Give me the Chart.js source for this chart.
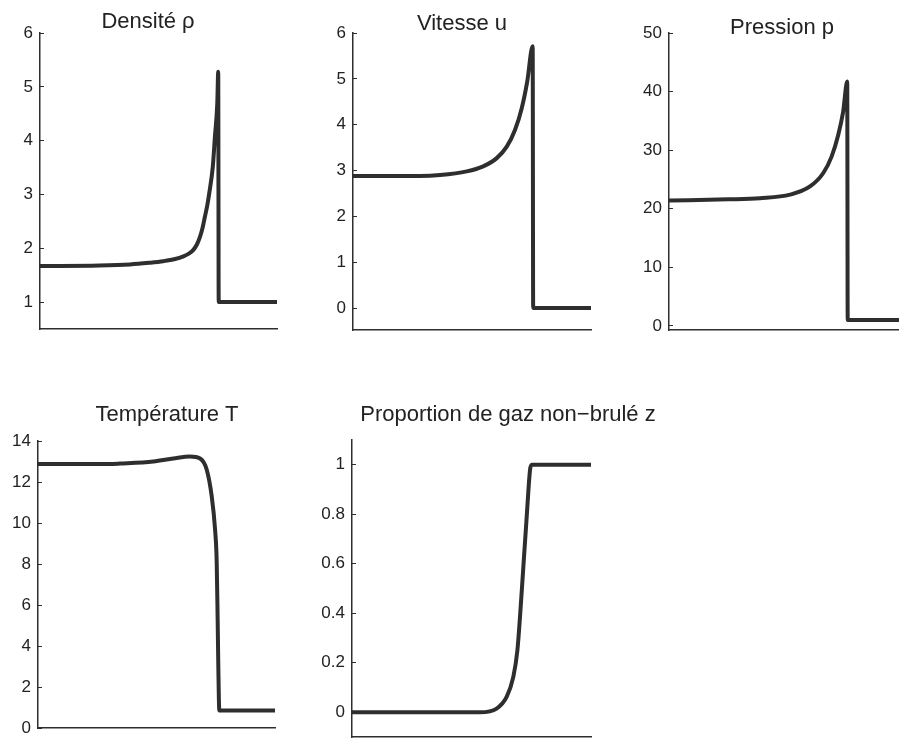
<!DOCTYPE html>
<html>
<head>
<meta charset="utf-8">
<script src="https://cdn.jsdelivr.net/npm/chart.js@4"></script>
<style>
  html, body { margin: 0; padding: 0; background: #fff; width: 899px; height: 748px; overflow: hidden; }
  canvas { position: absolute; }
</style>
</head>
<body>
<canvas id="densite"></canvas>
<canvas id="vitesse"></canvas>
<canvas id="pression"></canvas>
<canvas id="temperature"></canvas>
<canvas id="proportion"></canvas>
<script>
// valeurs (x = position relative 0..1)
const densX = [0, 0.25, 0.38, 0.46, 0.52, 0.57, 0.605, 0.628, 0.647, 0.662, 0.675, 0.686, 0.696, 0.706, 0.714, 0.729, 0.738, 0.748, 0.752, 0.754, 1];
const densY = [1.67, 1.68, 1.70, 1.73, 1.76, 1.80, 1.85, 1.90, 1.97, 2.07, 2.21, 2.38, 2.59, 2.80, 3.02, 3.51, 4.07, 4.69, 5.28, 1.0, 1.0];
const densTicks = [1, 2, 3, 4, 5, 6];

const vitX = [0, 0.28, 0.366, 0.478, 0.547, 0.604, 0.646, 0.681, 0.709, 0.732, 0.755, 0.757, 1];
const vitY = [2.88, 2.88, 2.90, 2.98, 3.09, 3.27, 3.52, 3.89, 4.36, 4.94, 5.71, 0, 0];
const vitTicks = [0, 1, 2, 3, 4, 5, 6];

const presX = [0, 0.25, 0.384, 0.511, 0.595, 0.651, 0.686, 0.714, 0.735, 0.752, 0.754, 1];
const presY = [21.4, 21.6, 21.8, 22.4, 23.8, 26.1, 28.9, 32.6, 36.6, 41.7, 1.0, 1.0];
const presTicks = [0, 10, 20, 30, 40, 50];

const tempX = [0, 0.3, 0.346, 0.487, 0.571, 0.641, 0.684, 0.712, 0.733, 0.747, 0.754, 0.758, 0.761, 0.765, 1];
const tempY = [12.88, 12.88, 12.9, 13.0, 13.15, 13.25, 13.15, 12.6, 11.3, 9.7, 8.1, 5.3, 2.9, 0.85, 0.85];
const tempTicks = [0, 2, 4, 6, 8, 10, 12, 14];

const propX = [0, 0.536, 0.605, 0.647, 0.675, 0.692, 0.703, 0.717, 0.731, 0.745, 0.752, 1];
const propY = [0, 0, 0.015, 0.062, 0.143, 0.25, 0.386, 0.588, 0.79, 0.98, 1.0, 1.0];
const propTicks = [0, 0.2, 0.4, 0.6, 0.8, 1];

const ink = '#2e2e2e';
const fontFamily = '"Liberation Sans", Arial, Helvetica, sans-serif';

// titre placé librement (les titres de la figure ne sont pas centrés sur les axes)
const panelTitle = {
  id: 'panelTitle',
  afterDraw(chart, args, opts) {
    const ctx = chart.ctx;
    ctx.save();
    ctx.font = '22px ' + fontFamily;
    ctx.fillStyle = '#222';
    ctx.textAlign = 'center';
    ctx.textBaseline = 'alphabetic';
    ctx.fillText(opts.text, opts.x, opts.y);
    ctx.restore();
  }
};

function makePanel(id, area, xs, ys, yMin, yMax, yTicks, title, tx, ty, padR) {
  const padL = 45, padT = 45, padB = 25;
  const canvas = document.getElementById(id);
  const left = area.l - padL, top = area.t - padT;
  canvas.width = area.r - area.l + padL + padR;
  canvas.height = area.b - area.t + padT + padB;
  canvas.style.left = left + 'px';
  canvas.style.top = top + 'px';

  new Chart(canvas, {
    type: 'line',
    data: {
      datasets: [{
        data: xs.map((x, i) => ({ x: x, y: ys[i] })),
        borderColor: ink,
        borderWidth: 4,
        pointRadius: 0,
        cubicInterpolationMode: 'monotone',
        borderJoinStyle: 'round',
        fill: false
      }]
    },
    options: {
      responsive: false,
      animation: false,
      layout: { padding: { left: 0, right: padR, top: padT, bottom: padB } },
      plugins: {
        legend: { display: false },
        tooltip: { enabled: false },
        panelTitle: { text: title, x: tx - left, y: ty - top }
      },
      scales: {
        x: {
          type: 'linear',
          min: 0,
          max: 1,
          ticks: { display: false },
          grid: { display: false, drawTicks: false },
          border: { display: true, color: ink, width: 1.5 },
          afterFit: s => { s.height = 0; }
        },
        y: {
          type: 'linear',
          min: yMin,
          max: yMax,
          afterBuildTicks: s => { s.ticks = yTicks.map(v => ({ value: v })); },
          ticks: {
            color: '#222',
            padding: 11,
            font: { family: fontFamily, size: 17 },
            callback: v => String(v)
          },
          // petites graduations tournées vers l'intérieur
          grid: { display: true, drawOnChartArea: false, drawTicks: true, tickLength: -4, color: ink, lineWidth: 1 },
          border: { display: true, color: ink, width: 1.5 },
          afterFit: s => { s.width = padL; }
        }
      }
    },
    plugins: [panelTitle]
  });
}

makePanel('densite', { l: 40, r: 277, t: 33, b: 329 }, densX, densY, 0.5, 6, densTicks, 'Densité ρ', 148, 27.5, 15);
makePanel('vitesse', { l: 353, r: 591, t: 33, b: 330 }, vitX, vitY, -0.48, 6, vitTicks, 'Vitesse u', 462, 30, 15);
makePanel('pression', { l: 669, r: 906, t: 33, b: 330 }, presX, presY, -0.7, 50, presTicks, 'Pression p', 782, 34, 15);
makePanel('temperature', { l: 38, r: 275, t: 441, b: 728 }, tempX, tempY, 0, 14, tempTicks, 'Température T', 167, 421, 15);
makePanel('proportion', { l: 352, r: 591, t: 440, b: 737 }, propX, propY, -0.1, 1.1, propTicks, 'Proportion de gaz non−brulé z', 508, 421, 110);
</script>
</body>
</html>
